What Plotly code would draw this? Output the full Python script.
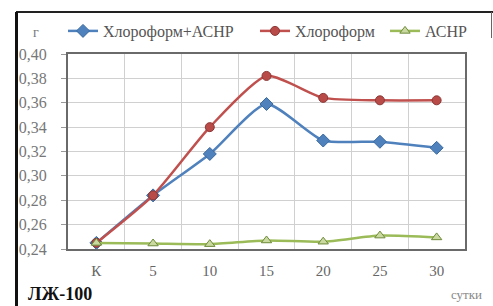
import plotly.graph_objects as go

categories = ["К", "5", "10", "15", "20", "25", "30"]
chl_achr = [0.245, 0.284, 0.318, 0.359, 0.329, 0.328, 0.323]
chl = [0.245, 0.284, 0.340, 0.382, 0.364, 0.362, 0.362]
achr = [0.245, 0.2445, 0.244, 0.247, 0.246, 0.251, 0.2495]
series_names = ["Хлороформ+АСНР", "Хлороформ", "АСНР"]

W, H = 493, 306
L, R, T, B = 68, 465, 54, 249

font_family = "Liberation Serif"

fig = go.Figure()
fig.add_trace(go.Scatter(
    x=categories, y=chl_achr, name=series_names[0], mode="lines+markers", legend="legend",
    line=dict(color="#4F81BD", width=2.5, shape="spline", smoothing=0.6),
    marker=dict(symbol="diamond", size=10, color="#4F81BD", line=dict(color="#3A6A9E", width=1))))
fig.add_trace(go.Scatter(
    x=categories, y=chl, name=series_names[1], mode="lines+markers", legend="legend2",
    line=dict(color="#C0504D", width=2.5, shape="spline", smoothing=0.6),
    marker=dict(symbol="circle", size=9, color="#B84A47", line=dict(color="#8C3836", width=1))))
fig.add_trace(go.Scatter(
    x=categories, y=achr, name=series_names[2], mode="lines+markers", legend="legend3",
    line=dict(color="#9BBB59", width=2.5, shape="spline", smoothing=0.6),
    marker=dict(symbol="triangle-up", size=9, color="#C9D9A0", line=dict(color="#6E8A3A", width=1))))

def px_x(p):
    return (p - L) / (R - L)

def px_y(p):
    return (B - p) / (B - T)

shapes = [
    dict(type="line", xref="paper", yref="paper", x0=px_x(16), x1=px_x(493), y0=px_y(12), y1=px_y(12),
         line=dict(color="#222222", width=2)),
    dict(type="line", xref="paper", yref="paper", x0=px_x(16.5), x1=px_x(16.5), y0=px_y(12), y1=px_y(306),
         line=dict(color="#111111", width=3)),
    dict(type="line", xref="paper", yref="paper", x0=px_x(491.5), x1=px_x(491.5), y0=px_y(12), y1=px_y(38),
         line=dict(color="#666666", width=1)),
]

annotations = [
    dict(text="г", xref="paper", yref="paper", x=px_x(36), y=px_y(33), showarrow=False,
         font=dict(family=font_family, size=14, color="#777777"), xanchor="center", yanchor="middle"),
    dict(text="<b>ЛЖ-100</b>", xref="paper", yref="paper", x=px_x(26), y=px_y(294), showarrow=False,
         font=dict(family=font_family, size=18, color="#111111"), xanchor="left", yanchor="middle"),
    dict(text="сутки", xref="paper", yref="paper", x=px_x(484), y=px_y(294), showarrow=False,
         font=dict(family=font_family, size=13, color="#888888"), xanchor="right", yanchor="middle"),
]

def legend_at(xpix):
    return dict(orientation="h", xref="paper", yref="paper",
                x=px_x(xpix), y=px_y(31), xanchor="left", yanchor="middle",
                font=dict(family=font_family, size=16, color="#555555"),
                bgcolor="rgba(0,0,0,0)", itemwidth=30)

fig.update_layout(
    width=W, height=H,
    margin=dict(l=L, r=W - R, t=T, b=H - B, pad=0, autoexpand=False),
    paper_bgcolor="white", plot_bgcolor="white",
    separators=", ",
    font=dict(family=font_family, size=15, color="#666666"),
    showlegend=True,
    legend=legend_at(63),
    legend2=legend_at(255),
    legend3=legend_at(385),
    shapes=shapes,
    annotations=annotations,
)

fig.update_xaxes(type="category", tickson="boundaries", showgrid=True, gridcolor="#D0D0D0", gridwidth=1,
                 showline=True, linecolor="#6A6A6A", linewidth=2, mirror=True,
                 ticks="", ticklabelstandoff=7,
                 tickfont=dict(family=font_family, size=15, color="#666666"),
                 range=[-0.5, 6.5])
fig.update_yaxes(range=[0.24, 0.40], dtick=0.02, tick0=0.24, tickformat=".2f",
                 showgrid=True, gridcolor="#D0D0D0", gridwidth=1,
                 showline=True, linecolor="#6A6A6A", linewidth=2, mirror=True,
                 ticks="outside", ticklen=5, tickcolor="#999999", ticklabelstandoff=11,
                 tickfont=dict(family=font_family, size=16, color="#777777"),
                 zeroline=False)

fig.write_html("out.html", config={"displayModeBar": False},
               post_script="document.body.style.margin='0';document.body.style.padding='0';")
